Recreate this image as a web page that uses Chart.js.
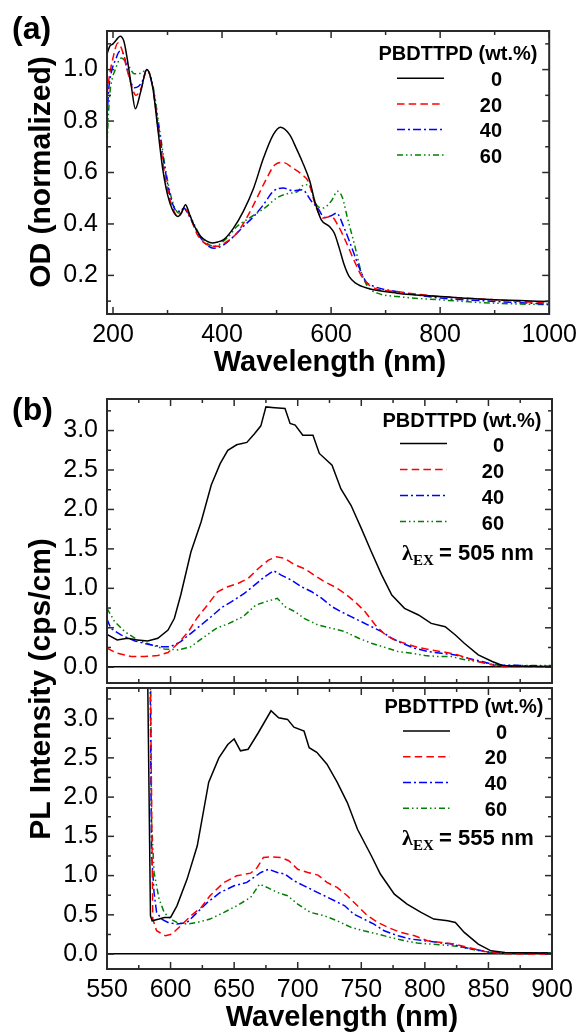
<!DOCTYPE html>
<html>
<head>
<meta charset="utf-8">
<script src="https://cdn.jsdelivr.net/npm/chart.js@4.4.1/dist/chart.umd.min.js"></script>
<style>
body { margin: 0; background: #fff; }
#wrap { position: relative; width: 583px; height: 1032px; }
canvas { position: absolute; left: 0; top: 0; }
</style>
</head>
<body>
<div id="wrap">
  <canvas id="absChart" width="583" height="1032"></canvas>
  <canvas id="pl505Chart" width="583" height="1032"></canvas>
  <canvas id="pl555Chart" width="583" height="1032"></canvas>
</div>
<script>
// series (PBDTTPD wt.%)
const seriesNames = ['0', '20', '40', '60']
const seriesColors = ['#000000', '#ff0000', '#0000ff', '#008000']
const seriesDash = [[], [7.5, 4.2], [8, 3, 2, 3], [6, 3, 1.5, 3, 1.5, 3]]
const legendTitle = 'PBDTTPD (wt.%)'

// ticks
const absXTicks = [200, 400, 600, 800, 1000]
const absXMinor = [300, 500, 700, 900]
const absYTicks = [0.2, 0.4, 0.6, 0.8, 1.0]
const absYMinor = [0.1, 0.3, 0.5, 0.7, 0.9, 1.1]
const plXTicks = [550, 600, 650, 700, 750, 800, 850, 900]
const plXMinor = [575, 625, 675, 725, 775, 825, 875]
const plYTicks = [0, 0.5, 1.0, 1.5, 2.0, 2.5, 3.0]
const plYMinor = [0.25, 0.75, 1.25, 1.75, 2.25, 2.75, 3.25]

// (a) absorption, normalized OD
const absWl0 = [189, 194, 200, 206, 213, 220, 227, 234, 241, 251, 262, 273, 282, 291, 300, 309, 319, 326, 333, 340, 348, 361, 372, 382, 392, 403, 421, 439, 458, 476, 494, 507, 524, 536, 547, 561, 570, 582, 597, 606, 615, 624, 633, 645, 667, 721, 800, 900, 1000]
const absOd0 = [1.06, 1.09, 1.10, 1.115, 1.13, 1.11, 1.03, 0.93, 0.848, 0.916, 1.0, 0.929, 0.773, 0.617, 0.514, 0.455, 0.429, 0.445, 0.475, 0.44, 0.397, 0.351, 0.333, 0.326, 0.33, 0.339, 0.384, 0.449, 0.54, 0.656, 0.747, 0.776, 0.747, 0.695, 0.643, 0.566, 0.488, 0.416, 0.39, 0.364, 0.306, 0.241, 0.196, 0.17, 0.15, 0.131, 0.118, 0.105, 0.099]
const absWl20 = [189, 192, 200, 209, 216, 227, 235, 242, 252, 262, 273, 282, 293, 303, 312, 319, 325, 330, 336, 342, 355, 373, 391, 409, 427, 445, 464, 482, 497, 512, 530, 547, 558, 573, 585, 600, 612, 627, 643, 658, 673, 721, 800, 900, 1000]
const absOd20 = [0.90, 0.955, 1.045, 1.103, 1.08, 0.99, 0.93, 0.90, 0.93, 1.0, 0.93, 0.786, 0.617, 0.507, 0.449, 0.429, 0.44, 0.462, 0.45, 0.423, 0.358, 0.319, 0.313, 0.332, 0.364, 0.423, 0.501, 0.578, 0.63, 0.639, 0.617, 0.591, 0.566, 0.462, 0.423, 0.429, 0.397, 0.332, 0.254, 0.19, 0.157, 0.137, 0.118, 0.105, 0.092]
const absWl40 = [189, 192, 197, 205, 212, 218, 227, 239, 247, 255, 262, 273, 282, 294, 306, 318, 325, 330, 336, 345, 361, 385, 403, 421, 439, 458, 476, 494, 512, 530, 547, 564, 576, 588, 600, 610, 624, 636, 652, 664, 679, 721, 800, 900, 1000]
const absOd40 = [0.80, 0.92, 0.99, 1.04, 1.07, 1.065, 0.994, 0.929, 0.935, 0.96, 1.0, 0.93, 0.80, 0.63, 0.50, 0.449, 0.45, 0.462, 0.445, 0.41, 0.345, 0.306, 0.319, 0.351, 0.39, 0.429, 0.475, 0.527, 0.54, 0.529, 0.533, 0.488, 0.46, 0.425, 0.432, 0.442, 0.384, 0.319, 0.228, 0.176, 0.157, 0.137, 0.112, 0.099, 0.088]
const absWl60 = [189, 191, 194, 198, 203, 215, 227, 239, 252, 262, 273, 285, 297, 309, 321, 330, 336, 345, 361, 385, 409, 427, 445, 464, 482, 500, 518, 539, 551, 561, 573, 585, 600, 612, 621, 630, 643, 655, 667, 685, 721, 800, 900, 1000]
const absOd60 = [0.70, 0.80, 0.903, 0.96, 0.994, 1.045, 1.02, 0.984, 0.987, 1.0, 0.94, 0.773, 0.604, 0.488, 0.442, 0.462, 0.45, 0.416, 0.351, 0.313, 0.345, 0.39, 0.416, 0.442, 0.468, 0.501, 0.517, 0.527, 0.553, 0.546, 0.475, 0.462, 0.488, 0.527, 0.501, 0.423, 0.319, 0.215, 0.157, 0.131, 0.118, 0.105, 0.092, 0.086]

// (b) PL, excitation 505 nm
const pl505Wl0 = [550, 558, 566, 574, 582, 590, 598, 603, 608, 616, 624, 632, 639, 645, 652, 660, 666, 671, 675, 682, 690, 694, 698, 704, 712, 717, 727, 734, 742, 750, 758, 766, 774, 784, 795, 805, 816, 824, 831, 842, 853, 861, 876, 900]
const pl505I0 = [0.417, 0.346, 0.367, 0.346, 0.333, 0.367, 0.472, 0.62, 0.915, 1.46, 1.84, 2.31, 2.58, 2.75, 2.82, 2.85, 2.96, 3.06, 3.30, 3.29, 3.28, 3.09, 3.07, 2.94, 2.94, 2.71, 2.56, 2.26, 2.05, 1.76, 1.46, 1.17, 0.915, 0.746, 0.662, 0.556, 0.514, 0.409, 0.304, 0.156, 0.072, 0.021, 0.013, 0.008]
const pl505Wl20 = [550, 558, 569, 579, 590, 598, 606, 614, 621, 629, 637, 645, 653, 661, 669, 677, 683, 690, 698, 705, 713, 721, 729, 737, 745, 753, 761, 769, 776, 784, 795, 805, 816, 826, 837, 847, 858, 879, 900]
const pl505I20 = [0.24, 0.177, 0.135, 0.135, 0.148, 0.186, 0.304, 0.451, 0.628, 0.788, 0.957, 1.02, 1.062, 1.126, 1.252, 1.357, 1.40, 1.379, 1.294, 1.252, 1.168, 1.083, 1.02, 0.936, 0.83, 0.704, 0.535, 0.409, 0.346, 0.304, 0.249, 0.219, 0.19, 0.156, 0.093, 0.051, 0.008, 0.008, 0.0]
const pl505Wl40 = [550, 553, 561, 572, 582, 593, 600, 608, 616, 624, 632, 640, 648, 658, 666, 674, 681, 687, 695, 703, 711, 719, 727, 734, 742, 750, 758, 766, 774, 782, 792, 803, 813, 824, 834, 845, 855, 876, 900]
const pl505I40 = [0.611, 0.493, 0.409, 0.333, 0.291, 0.261, 0.261, 0.325, 0.43, 0.535, 0.641, 0.755, 0.831, 0.936, 1.041, 1.147, 1.223, 1.168, 1.105, 1.02, 0.957, 0.873, 0.767, 0.704, 0.641, 0.578, 0.514, 0.451, 0.367, 0.304, 0.24, 0.198, 0.177, 0.156, 0.114, 0.072, 0.03, 0.021, 0.008]
const pl505Wl60 = [550, 556, 564, 574, 585, 595, 606, 616, 625, 636, 646, 657, 667, 675, 684, 690, 698, 705, 716, 727, 737, 748, 758, 769, 779, 790, 800, 811, 821, 832, 842, 853, 863, 882, 900]
const pl505I60 = [0.746, 0.578, 0.451, 0.346, 0.283, 0.232, 0.219, 0.261, 0.367, 0.493, 0.556, 0.641, 0.788, 0.831, 0.873, 0.767, 0.704, 0.62, 0.535, 0.493, 0.451, 0.367, 0.304, 0.249, 0.198, 0.177, 0.148, 0.135, 0.135, 0.093, 0.072, 0.038, 0.021, 0.021, 0.021]

// (b) PL, excitation 555 nm
const pl555Wl0 = [581.3, 584.2, 585.5, 591, 595, 600, 605, 613, 621, 630, 638, 645, 650, 655, 661, 669, 679, 685, 692, 697, 705, 709, 715, 723, 731, 739, 747, 758, 765, 776, 786, 797, 807, 818, 824, 831, 842, 852, 863, 899]
const pl555I0 = [4.5, 0.488, 0.424, 0.446, 0.467, 0.467, 0.615, 0.955, 1.38, 2.19, 2.50, 2.67, 2.74, 2.59, 2.61, 2.82, 3.10, 3.01, 2.99, 2.89, 2.84, 2.63, 2.57, 2.42, 2.19, 1.93, 1.59, 1.25, 1.02, 0.764, 0.637, 0.531, 0.446, 0.424, 0.403, 0.276, 0.127, 0.042, 0.021, 0.013]
const pl555Wl20 = [583.5, 586, 589, 596, 601, 608, 616, 624, 631, 642, 652, 663, 668, 673, 679, 687, 693, 700, 708, 716, 723, 731, 739, 747, 755, 763, 771, 781, 792, 802, 813, 823, 834, 847, 860, 878, 899]
const pl555I20 = [4.5, 0.446, 0.297, 0.233, 0.255, 0.361, 0.488, 0.594, 0.743, 0.913, 0.997, 1.031, 1.10, 1.23, 1.24, 1.23, 1.19, 1.08, 1.04, 1.006, 0.913, 0.849, 0.743, 0.615, 0.488, 0.403, 0.34, 0.276, 0.233, 0.17, 0.149, 0.127, 0.085, 0.034, 0.008, 0.0, 0.0]
const pl555Wl40 = [583.5, 585, 587, 589, 593, 598, 605, 613, 621, 629, 639, 650, 660, 671, 677, 684, 690, 697, 705, 713, 721, 729, 737, 744, 752, 760, 768, 779, 789, 800, 810, 821, 831, 842, 852, 876, 899]
const pl555I40 = [4.5, 1.29, 0.785, 0.531, 0.446, 0.403, 0.382, 0.403, 0.531, 0.658, 0.785, 0.87, 0.913, 1.04, 1.08, 1.04, 1.02, 0.934, 0.87, 0.806, 0.743, 0.679, 0.615, 0.509, 0.446, 0.382, 0.297, 0.233, 0.191, 0.17, 0.149, 0.127, 0.085, 0.051, 0.021, 0.008, 0.013]
const pl555Wl60 = [584, 585, 587, 591, 595, 600, 606, 613, 621, 631, 642, 652, 663, 670, 676, 684, 692, 700, 710, 721, 731, 742, 752, 763, 773, 784, 794, 805, 815, 826, 836, 847, 857, 878, 899]
const pl555I60 = [4.5, 1.72, 1.04, 0.70, 0.53, 0.446, 0.395, 0.382, 0.403, 0.446, 0.531, 0.615, 0.722, 0.891, 0.849, 0.785, 0.743, 0.637, 0.531, 0.488, 0.424, 0.34, 0.297, 0.255, 0.212, 0.17, 0.14, 0.127, 0.115, 0.098, 0.064, 0.03, 0.008, 0.008, 0.013]

const sans = "'Liberation Sans', Arial, sans-serif"
const serif = "'Liberation Serif', 'Times New Roman', serif"
Chart.defaults.font.family = sans
Chart.defaults.color = '#000'

function pairs(xs, ys) {
    return xs.map((x, i) => ({ x: x, y: ys[i] }))
}

function makeSets(list, smooth) {
    return list.map((s, i) => ({
        label: seriesNames[i],
        data: pairs(s[0], s[1]),
        borderColor: seriesColors[i],
        borderDash: seriesDash[i],
        borderWidth: 1.5,
        pointRadius: 0,
        fill: false,
        cubicInterpolationMode: smooth ? 'monotone' : 'default',
        tension: 0
    }))
}

function xAxis(min, max, ticks, labels) {
    return {
        type: 'linear', min: min, max: max,
        grid: { display: false, drawTicks: false },
        border: { display: false },
        afterBuildTicks: s => { s.ticks = ticks.map(v => ({ value: v })) },
        afterFit: s => { s.height = 40 },
        ticks: { display: labels, padding: 6, font: { size: 25 }, color: '#000', maxRotation: 0, autoSkip: false, callback: v => String(v) }
    }
}

function yAxis(min, max, ticks, zeroLine) {
    return {
        type: 'linear', min: min, max: max,
        grid: {
            display: zeroLine, drawTicks: false, lineWidth: 1.5,
            color: c => (c.tick && c.tick.value === 0) ? '#000' : 'rgba(0,0,0,0)'
        },
        border: { display: false },
        afterBuildTicks: s => { s.ticks = ticks.map(v => ({ value: v })) },
        afterFit: s => { s.width = 107 },
        ticks: { padding: 9, font: { size: 25 }, color: '#000', autoSkip: false, callback: v => v.toFixed(1) }
    }
}

// frame, inward ticks on all sides, titles and legend
const decor = {
    id: 'decor',
    afterDraw(chart, args, o) {
        const ctx = chart.ctx
        const a = chart.chartArea
        const x = chart.scales.x, y = chart.scales.y
        ctx.save()
        ctx.strokeStyle = '#2a2a2a'
        ctx.lineWidth = 2
        ctx.strokeRect(a.left, a.top, a.right - a.left, a.bottom - a.top)
        ctx.lineWidth = 1.5
        const seg = (x0, y0, x1, y1) => { ctx.beginPath(); ctx.moveTo(x0, y0); ctx.lineTo(x1, y1); ctx.stroke() }
        const xt = (vals, len) => vals.forEach(v => {
            const p = x.getPixelForValue(v)
            seg(p, a.bottom, p, a.bottom - len); seg(p, a.top, p, a.top + len)
        })
        const yt = (vals, len) => vals.forEach(v => {
            const p = y.getPixelForValue(v)
            seg(a.left, p, a.left + len, p); seg(a.right, p, a.right - len, p)
        })
        xt(o.xMajor, 7); xt(o.xMinor, 4)
        yt(o.yMajor, 7); yt(o.yMinor, 4)

        ctx.fillStyle = '#000'
        ;(o.texts || []).forEach(t => {
            ctx.font = t.font
            ctx.textAlign = t.align || 'left'
            ctx.textBaseline = 'alphabetic'
            if (t.rot) {
                ctx.save(); ctx.translate(t.x, t.y); ctx.rotate(-Math.PI / 2)
                ctx.fillText(t.text, 0, 0); ctx.restore()
            } else ctx.fillText(t.text, t.x, t.y)
        })

        const lg = o.legend
        if (lg) {
            ctx.font = 'bold 20px ' + sans
            ctx.textAlign = 'left'
            ctx.fillText(legendTitle, lg.x, lg.y)
            seriesNames.forEach((name, i) => {
                const by = lg.y0 + i * lg.step
                ctx.strokeStyle = seriesColors[i]
                ctx.setLineDash(seriesDash[i])
                ctx.lineWidth = 1.5
                seg(lg.l0, by - lg.dy, lg.l1, by - lg.dy)
                ctx.setLineDash([])
                ctx.textAlign = 'right'
                ctx.fillText(name, lg.r, by)
            })
            if (lg.ex) {
                ctx.textAlign = 'left'
                ctx.font = 'bold 22px ' + serif
                ctx.fillText('\u03bb', lg.exX, lg.exY)
                ctx.font = 'bold 15px ' + serif
                ctx.fillText('EX', lg.exX + 11, lg.exY + 5)
                ctx.font = 'bold 22px ' + sans
                ctx.fillText('= ' + lg.ex + ' nm', lg.exX + 37, lg.exY)
            }
        }
        ctx.restore()
    }
}

const baseOpts = {
    responsive: false,
    animation: false,
    events: [],
    plugins: { legend: { display: false }, tooltip: { enabled: false } }
}

// (a) absorption
new Chart(document.getElementById('absChart'), {
    type: 'line',
    data: { datasets: makeSets([[absWl0, absOd0], [absWl20, absOd20], [absWl40, absOd40], [absWl60, absOd60]], true) },
    options: Object.assign({}, baseOpts, {
        layout: { padding: { left: 0, right: 30, top: 31, bottom: 678 } },
        scales: { x: xAxis(189, 1000, absXTicks, true), y: yAxis(0.05, 1.15, absYTicks, false) },
        plugins: Object.assign({}, baseOpts.plugins, {
            decor: {
                xMajor: absXTicks, xMinor: absXMinor, yMajor: absYTicks, yMinor: absYMinor,
                texts: [
                    { text: '(a)', x: 12, y: 39, font: 'bold 32px ' + sans },
                    { text: 'OD (normalized)', x: 50, y: 172, font: 'bold 30px ' + sans, align: 'center', rot: true },
                    { text: 'Wavelength (nm)', x: 330, y: 371, font: 'bold 29px ' + sans, align: 'center' }
                ],
                legend: { x: 378.5, y: 60, l0: 397, l1: 444, r: 502, y0: 86, step: 25.6, dy: 7.7 }
            }
        })
    }),
    plugins: [decor]
})

// (b) upper, excitation 505 nm
new Chart(document.getElementById('pl505Chart'), {
    type: 'line',
    data: { datasets: makeSets([[pl505Wl0, pl505I0], [pl505Wl20, pl505I20], [pl505Wl40, pl505I40], [pl505Wl60, pl505I60]], false) },
    options: Object.assign({}, baseOpts, {
        layout: { padding: { left: 0, right: 31, top: 399, bottom: 309 } },
        scales: { x: xAxis(550, 900, plXTicks, false), y: yAxis(-0.2, 3.4, plYTicks, true) },
        plugins: Object.assign({}, baseOpts.plugins, {
            decor: {
                xMajor: plXTicks, xMinor: plXMinor, yMajor: plYTicks, yMinor: plYMinor,
                texts: [
                    { text: '(b)', x: 12, y: 420, font: 'bold 32px ' + sans },
                    { text: 'PL Intensity (cps/cm)', x: 50, y: 689, font: 'bold 30px ' + sans, align: 'center', rot: true }
                ],
                legend: { x: 382.5, y: 427, l0: 400, l1: 447, r: 504, y0: 452, step: 26, dy: 8.4, ex: '505', exX: 402, exY: 560 }
            }
        })
    }),
    plugins: [decor]
})

// (b) lower, excitation 555 nm
new Chart(document.getElementById('pl555Chart'), {
    type: 'line',
    data: { datasets: makeSets([[pl555Wl0, pl555I0], [pl555Wl20, pl555I20], [pl555Wl40, pl555I40], [pl555Wl60, pl555I60]], false) },
    options: Object.assign({}, baseOpts, {
        layout: { padding: { left: 0, right: 31, top: 688, bottom: 23 } },
        scales: { x: xAxis(550, 900, plXTicks, true), y: yAxis(-0.19, 3.39, plYTicks, true) },
        plugins: Object.assign({}, baseOpts.plugins, {
            decor: {
                xMajor: plXTicks, xMinor: plXMinor, yMajor: plYTicks, yMinor: plYMinor,
                texts: [
                    { text: 'Wavelength (nm)', x: 342, y: 1026, font: 'bold 29px ' + sans, align: 'center' }
                ],
                legend: { x: 384.5, y: 713, l0: 403, l1: 450, r: 507, y0: 738.5, step: 25.8, dy: 7.6, ex: '555', exX: 402, exY: 845 }
            }
        })
    }),
    plugins: [decor]
})
</script>
</body>
</html>
